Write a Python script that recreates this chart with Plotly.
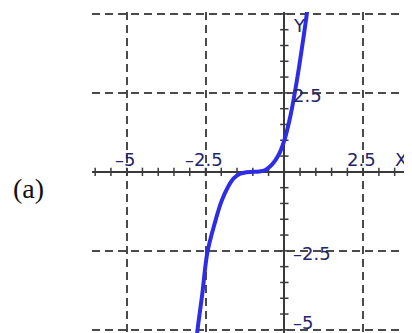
import numpy as np
import plotly.graph_objects as go

# curve points
curve_x = [-2.85, -2.76, -2.6, -2.44, -2.2, -2.0, -1.8, -1.6, -1.4, -1.2, -1.0,
           -0.8, -0.6, -0.4, -0.2, 0.0, 0.2, 0.4, 0.6, 0.72, 0.8]
curve_y = [-5.9, -5.06, -3.85, -2.55, -1.6, -0.95, -0.5, -0.2, -0.06, -0.01, 0.0,
           0.01, 0.06, 0.22, 0.5, 1.0, 1.8, 2.9, 4.2, 5.05, 5.8]

grid_vals = [-5, -2.5, 0, 2.5, 5]
x_tick_labels = ["–5", "–2.5", "2.5"]
x_tick_pos = [-5, -2.5, 2.5]
y_tick_labels = ["2.5", "–2.5"]
y_tick_pos = [2.5, -2.5]

minor_x = np.arange(-6.0, 4.01, 0.5)
minor_y = np.arange(-5.0, 5.01, 0.5)

axis_col = "#3a3a3a"
grid_col = "#4a4a4a"
label_col = "#25256a"

# page body has an 8px margin; compensate so the plot area sits at 92..412 x 12..333
W, H = 404, 325
ML, MT = 84, 4
PW, PH = W - ML, H - MT

fig = go.Figure()
fig.add_trace(go.Scatter(x=minor_x, y=[0] * len(minor_x), mode="markers",
                         marker=dict(symbol="line-ns-open", size=6, color=axis_col,
                                     line=dict(color=axis_col, width=1.5)),
                         hoverinfo="skip"))
fig.add_trace(go.Scatter(x=[0] * len(minor_y), y=minor_y, mode="markers",
                         marker=dict(symbol="line-ew-open", size=6, color=axis_col,
                                     line=dict(color=axis_col, width=1.5)),
                         hoverinfo="skip"))
fig.add_trace(go.Scatter(x=curve_x, y=curve_y, mode="lines",
                         line=dict(color="rgb(45,45,232)", width=4, shape="spline"),
                         hoverinfo="skip"))

font = dict(family="DejaVu Sans", size=18, color=label_col)
for t, xv in zip(x_tick_labels, x_tick_pos):
    fig.add_annotation(x=xv, y=0, text=t, showarrow=False, font=font,
                       xanchor="center", yanchor="bottom", yshift=0, xshift=-2)
fig.add_annotation(x=3.7, y=0, text="X", showarrow=False, font=font,
                   xanchor="center", yanchor="bottom", yshift=0)
for t, yv in zip(y_tick_labels, y_tick_pos):
    fig.add_annotation(x=0, y=yv, text=t, showarrow=False, font=font,
                       xanchor="left", yanchor="middle", xshift=7, yshift=-3)
fig.add_annotation(x=0, y=-4.78, text="–5", showarrow=False, font=font,
                   xanchor="left", yanchor="middle", xshift=7)
fig.add_annotation(x=0, y=4.62, text="Y", showarrow=False, font=font,
                   xanchor="left", yanchor="middle", xshift=7)
fig.add_annotation(x=(28 - 8 - ML) / PW, y=(MT + PH - (189 - 8)) / PH,
                   xref="paper", yref="paper", text="(a)", showarrow=False,
                   xanchor="center", yanchor="middle",
                   font=dict(family="Liberation Serif", size=28, color="#111111"))

fig.update_layout(
    width=W, height=H,
    margin=dict(l=ML, r=0, t=MT, b=0, pad=0),
    paper_bgcolor="white", plot_bgcolor="white",
    showlegend=False,
    xaxis=dict(range=[-6.1, 4.05], tickvals=grid_vals, showticklabels=False,
               showgrid=True, gridcolor=grid_col, gridwidth=1.6, griddash="8px,5px",
               zeroline=True, zerolinecolor=axis_col, zerolinewidth=2,
               ticks="", showline=False, fixedrange=True),
    yaxis=dict(range=[-5.1, 5.06], tickvals=grid_vals, showticklabels=False,
               showgrid=True, gridcolor=grid_col, gridwidth=1.6, griddash="8px,5px",
               zeroline=True, zerolinecolor=axis_col, zerolinewidth=2,
               ticks="", showline=False, fixedrange=True),
)

fig.write_html("out.html")
